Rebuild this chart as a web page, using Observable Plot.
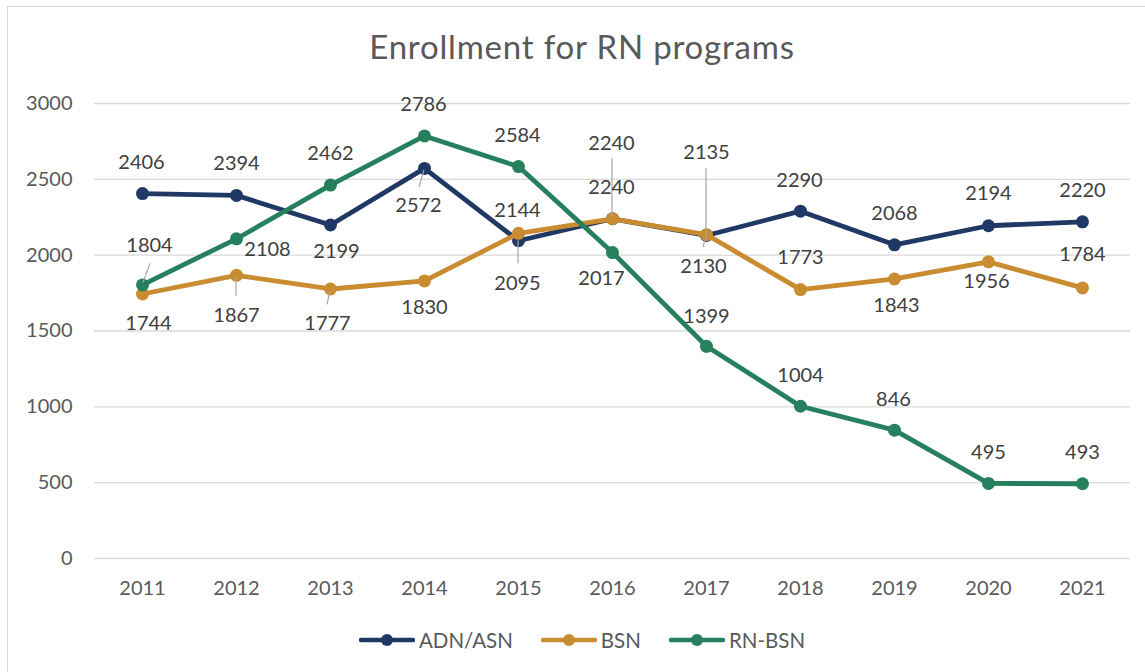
<!DOCTYPE html>
<html><head><meta charset="utf-8">
<script src="https://cdn.jsdelivr.net/npm/d3@7"></script>
<script src="https://cdn.jsdelivr.net/npm/@observablehq/plot@0.6"></script>
<style>
body{margin:0;background:#fff;font-family:Lato, sans-serif;}
#frame{position:absolute;left:7px;top:6px;width:1160px;height:700px;border:1.5px solid #d9d9d9;box-sizing:border-box;}
#title{position:absolute;left:0;top:27px;width:1164px;text-align:center;font-size:33px;line-height:1.2;color:#595959;letter-spacing:0.8px;}
#chart{position:absolute;left:0;top:60px;}
#legend{position:absolute;left:0;top:628px;width:1164px;display:flex;justify-content:center;gap:28px;font-size:20.5px;line-height:24px;color:#595959;}
.item{display:flex;align-items:center;gap:4px;}
</style></head><body>
<div id="frame"></div>
<div id="title">Enrollment for RN programs</div>
<div id="chart"></div>
<div id="legend"></div>
<script>
// ---- data ----
const years = [2011, 2012, 2013, 2014, 2015, 2016, 2017, 2018, 2019, 2020, 2021];
const adnAsn = [2406, 2394, 2199, 2572, 2095, 2240, 2130, 2290, 2068, 2194, 2220];
const bsn    = [1744, 1867, 1777, 1830, 2144, 2240, 2135, 1773, 1843, 1956, 1784];
const rnBsn  = [1804, 2108, 2462, 2786, 2584, 2017, 1399, 1004, 846, 495, 493];
const seriesNames = ["ADN/ASN", "BSN", "RN-BSN"];
const yTicks = [0, 500, 1000, 1500, 2000, 2500, 3000];

// ---- styling / layout ----
const colors = ["#1f3864", "#c98c30", "#26805e"];
// label offsets in px (dx, dy) for each point
const adnLabelPos = [[-1,-31],[0,-32],[6,27],[-6,37],[-1,43],[-1,-75],[-3,31],[-1,-31],[0,-31],[0,-32],[0,-31]];
const bsnLabelPos = [[6,30],[0,40],[-3,35],[0,27],[-1,-23],[-1,-31],[0,-82],[0,-32],[2,27],[-2,20],[0,-33]];
const rnLabelPos  = [[7,-39],[31,11],[0,-32],[-1,-31],[-1,-31],[-11,26],[0,-30],[0,-31],[-1,-31],[0,-31],[0,-31]];
// leader lines, px offsets from the point
const leaders = [
  {s: 2, year: 2011, from: [1,-2], to: [8,-21]},
  {s: 1, year: 2012, from: [0,2], to: [0,21]},
  {s: 1, year: 2013, from: [0,2], to: [-3,16]},
  {s: 0, year: 2014, from: [0,2], to: [-5,19]},
  {s: 0, year: 2015, from: [0,0], to: [0,23]},
  {s: 0, year: 2016, from: [0,-2], to: [0,-60]},
  {s: 1, year: 2017, from: [0,3], to: [0,-66]},
  {s: 0, year: 2017, from: [0,2], to: [-3,12]}
];

const valuesBySeries = [adnAsn, bsn, rnBsn];
const labelPos = [adnLabelPos, bsnLabelPos, rnLabelPos];
const series = seriesNames.map((name, s) => ({
  name, color: colors[s],
  rows: years.map((year, i) => ({year, value: valuesBySeries[s][i], series: name}))
}));

const marks = [
  Plot.gridY(yTicks, {stroke: "#d9d9d9", strokeOpacity: 1, strokeWidth: 1.3}),
  Plot.axisY(yTicks, {tickSize: 0, tickPadding: 22, label: null, tickFormat: d => String(d)}),
  Plot.axisX({tickSize: 0, tickPadding: 22, label: null, tickFormat: d => String(d)})
];
for (const s of series) {
  marks.push(Plot.line(s.rows, {x: "year", y: "value", stroke: s.color, strokeWidth: 4.8, strokeLinecap: "round", strokeLinejoin: "round"}));
  marks.push(Plot.dot(s.rows, {x: "year", y: "value", r: 6.5, fill: s.color, stroke: "none"}));
}
// leader lines drawn with the plot's own scales
marks.push((index, scales) => {
  const g = d3.create("svg:g").attr("stroke", "#a6a6a6").attr("stroke-width", 1.2);
  for (const l of leaders) {
    const i = years.indexOf(l.year);
    const px = scales.x(l.year), py = scales.y(valuesBySeries[l.s][i]);
    g.append("line")
      .attr("x1", px + l.from[0]).attr("y1", py + l.from[1])
      .attr("x2", px + l.to[0]).attr("y2", py + l.to[1]);
  }
  return g.node();
});
series.forEach((s, k) => {
  s.rows.forEach((d, i) => {
    marks.push(Plot.text([d], {x: "year", y: "value", text: d => String(d.value),
      dx: labelPos[k][i][0], dy: labelPos[k][i][1], fill: "#404040", fontSize: 20}));
  });
});

const chart = Plot.plot({
  width: 1145, height: 560,
  marginLeft: 94, marginRight: 15, marginTop: 43, marginBottom: 62,
  x: {type: "point", domain: years, padding: 0.5},
  y: {domain: [0, 3000]},
  style: {fontFamily: "Lato, sans-serif", fontSize: "20px", color: "#595959", background: "transparent", overflow: "visible"},
  marks
});
document.getElementById("chart").appendChild(chart);

// legend
const legend = d3.select("#legend");
series.forEach(s => {
  const item = legend.append("div").attr("class", "item");
  const svg = item.append("svg").attr("width", 56).attr("height", 14);
  svg.append("line").attr("x1", 2).attr("x2", 54).attr("y1", 7).attr("y2", 7)
    .attr("stroke", s.color).attr("stroke-width", 4.5).attr("stroke-linecap", "round");
  svg.append("circle").attr("cx", 28).attr("cy", 7).attr("r", 6).attr("fill", s.color);
  item.append("span").text(s.name);
});
</script>
</body></html>
